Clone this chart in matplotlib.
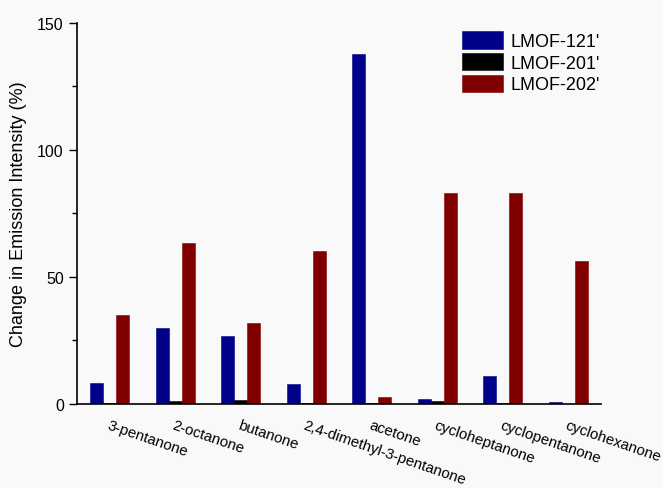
import numpy as np
import matplotlib
matplotlib.use("Agg")
import matplotlib.pyplot as plt

plt.rcParams['font.family'] = ['Liberation Sans', 'DejaVu Sans']

# change in emission intensity (%) for each analyte
analytes = ["3-pentanone", "2-octanone", "butanone", "2,4-dimethyl-3-pentanone",
            "acetone", "cycloheptanone", "cyclopentanone", "cyclohexanone"]
lmof_121 = [8.1, 29.8, 26.8, 8.0, 137.8, 1.8, 11.0, 0.9]
lmof_201 = [0.5, 1.0, 1.5, 0.5, 0.5, 1.3, 0.3, 0.0]
lmof_202 = [35.0, 63.2, 31.9, 60.1, 2.9, 82.9, 82.9, 56.2]
series_names = ["LMOF-121'", "LMOF-201'", "LMOF-202'"]
colors = ["#000088", "#000000", "#800000"]

fig = plt.figure(figsize=(6.62, 4.89), dpi=100, facecolor="#f9f9f9")
ax = fig.add_axes([0.1163, 0.1718, 0.7917, 0.7792])
ax.set_facecolor("#f9f9f9")

x = np.arange(len(analytes))
w = 0.2
for i, (vals, name, c) in enumerate(zip([lmof_121, lmof_201, lmof_202], series_names, colors)):
    ax.bar(x + (i - 1) * w, vals, width=w, color=c, label=name, linewidth=0.4, edgecolor=c)

ax.set_xlim(-0.5, len(analytes) - 0.5)
ax.set_ylim(0, 150)
ax.set_yticks([0, 50, 100, 150])
ax.set_yticks([25, 75, 125], minor=True)
ax.tick_params(axis='y', which='major', length=6, width=1, labelsize=11.5, direction='out')
ax.tick_params(axis='y', which='minor', length=3.5, width=1, direction='out')
ax.set_xticks(x)
ax.tick_params(axis='x', length=0, pad=10)
ax.set_xticklabels(analytes, rotation=-19, ha='left', va='top', rotation_mode='anchor', fontsize=10.8)

for s in ["top", "right"]:
    ax.spines[s].set_visible(False)
ax.spines["left"].set_linewidth(1.2)
ax.spines["bottom"].set_linewidth(1.2)

ax.set_ylabel("Change in Emission Intensity (%)", fontsize=13, labelpad=7)

ax.legend(loc="upper left", bbox_to_anchor=(0.684, 0.952), bbox_transform=fig.transFigure,
          frameon=False, fontsize=13, handlelength=2.3, handleheight=1.1,
          labelspacing=0.15, handletextpad=0.4, borderpad=0)

fig.savefig("out.png", dpi=100, facecolor=fig.get_facecolor())
